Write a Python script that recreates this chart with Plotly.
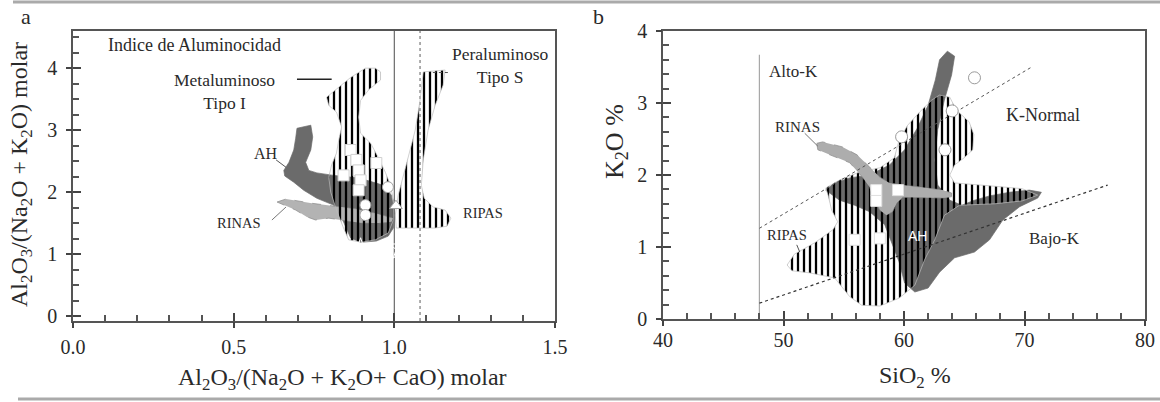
import plotly.graph_objects as go

# ---------------- Panel a: alumina saturation index ----------------
# Metaluminous (I-type) field, vertically hatched
a_meta_x = [0.789, 0.827, 0.864, 0.910, 0.941, 0.957, 0.957, 0.920, 0.895, 0.889, 0.895, 0.926,
            0.950, 0.972, 0.988, 0.997, 0.997, 0.981, 0.941, 0.898, 0.858, 0.842, 0.820, 0.802,
            0.796, 0.805, 0.820, 0.827, 0.836, 0.820, 0.796]
a_meta_y = [3.53, 3.69, 3.85, 4.00, 4.00, 3.94, 3.81, 3.65, 3.48, 3.21, 2.95, 2.79,
            2.56, 2.32, 2.11, 1.87, 1.55, 1.34, 1.23, 1.19, 1.23, 1.42, 1.71, 2.00,
            2.24, 2.44, 2.63, 2.84, 3.05, 3.29, 3.40]
# RIPAS field (peraluminous side), hatched
a_ripas_x = [1.090, 1.158, 1.152, 1.127, 1.105, 1.090, 1.084, 1.093, 1.121, 1.158, 1.176, 1.164,
             1.127, 1.006, 1.003, 1.012, 1.037, 1.065, 1.080]
a_ripas_y = [3.94, 3.97, 3.73, 3.40, 3.00, 2.52, 2.11, 1.90, 1.76, 1.71, 1.58, 1.45,
             1.42, 1.42, 1.63, 1.95, 2.44, 3.00, 3.48]
# AH field, dark grey
a_ah_x = [0.697, 0.740, 0.746, 0.740, 0.724, 0.734, 0.759, 0.811, 0.889, 0.966, 0.991, 1.000,
          0.997, 0.981, 0.944, 0.895, 0.864, 0.842, 0.811, 0.759, 0.718, 0.687, 0.659, 0.656,
          0.672, 0.687, 0.693]
a_ah_y = [3.03, 3.08, 2.89, 2.68, 2.48, 2.35, 2.31, 2.27, 2.23, 2.11, 1.95, 1.63,
          1.42, 1.29, 1.21, 1.19, 1.26, 1.52, 1.79, 1.90, 2.03, 2.16, 2.26, 2.35,
          2.48, 2.68, 2.87]
# RINAS field, light grey
a_rinas_x = [0.635, 0.663, 0.743, 0.817, 0.879, 0.941, 0.981, 0.997, 0.991, 0.960, 0.898, 0.836,
             0.796, 0.755, 0.728, 0.693, 0.656]
a_rinas_y = [1.84, 1.89, 1.82, 1.77, 1.73, 1.66, 1.60, 1.58, 1.52, 1.50, 1.50, 1.55,
             1.58, 1.55, 1.60, 1.71, 1.79]
# samples
a_sq_x = [0.842, 0.864, 0.882, 0.889, 0.895, 0.889, 0.944]
a_sq_y = [2.27, 2.68, 2.52, 2.35, 2.19, 2.03, 2.47]
a_ci_x = [0.980, 0.910, 0.910]
a_ci_y = [2.08, 1.79, 1.63]
a_tr_x = [1.005]
a_tr_y = [1.78]
a_st_x = [0.895, 1.020]
a_st_y = [1.06, 1.10]
a_xticks = [0.0, 0.5, 1.0, 1.5]
a_xticktext = ["0.0", "0.5", "1.0", "1.5"]
a_yticks = [0, 1, 2, 3, 4]

# ---------------- Panel b: K2O vs SiO2 ----------------
b_ah_x = [53.5, 54.25, 55.5, 57.15, 58.8, 60.05, 61.1, 62.0, 62.6, 62.95, 63.6, 64.2,
          63.95, 63.35, 62.8, 62.55, 62.8, 63.8, 64.8, 65.85, 67.1, 68.75, 70.4, 71.4,
          71.1, 69.6, 68.2, 67.1, 65.85, 64.2, 62.95, 62.0, 60.9, 60.05, 59.6, 59.05,
          58.4, 57.15, 55.9, 54.65]
b_ah_y = [1.79, 1.89, 1.96, 2.00, 2.14, 2.35, 2.65, 2.97, 3.32, 3.60, 3.72, 3.65,
          3.39, 3.04, 2.63, 2.21, 1.86, 1.65, 1.58, 1.65, 1.71, 1.76, 1.79, 1.76,
          1.68, 1.56, 1.375, 1.10, 0.93, 0.85, 0.65, 0.43, 0.375, 0.50, 0.79, 1.03,
          1.31, 1.49, 1.58, 1.65]
b_ripas_x = [50.3, 50.9, 52.6, 54.1, 54.5, 54.0, 53.7, 53.5, 54.65, 56.3, 58.0, 59.2,
             59.6, 60.3, 61.3, 62.3, 62.95, 63.8, 64.35, 65.4, 65.8, 65.7, 65.0, 64.2,
             63.8, 64.2, 67.1, 69.8, 71.1, 69.8, 67.5, 64.6, 63.35, 62.55, 61.7, 60.9,
             59.6, 58.0, 56.5, 55.5, 54.25, 52.2, 50.7]
b_ripas_y = [0.75, 0.90, 1.06, 1.24, 1.35, 1.51, 1.72, 1.82, 1.93, 2.04, 2.10, 2.24,
             2.49, 2.69, 2.875, 3.04, 3.11, 3.08, 2.90, 2.74, 2.56, 2.35, 2.24, 2.14,
             2.00, 1.89, 1.85, 1.81, 1.72, 1.64, 1.60, 1.58, 1.44, 1.10, 0.82, 0.47,
             0.29, 0.18, 0.19, 0.31, 0.57, 0.64, 0.67]
b_rinas_x = [52.75, 53.25, 54.9, 56.1, 57.15, 58.0, 58.8, 59.9, 61.5, 63.2, 63.95, 63.95,
             63.2, 61.5, 59.9, 59.4, 59.05, 58.55, 58.0, 57.55, 57.15, 56.55, 55.5, 53.85,
             52.85]
b_rinas_y = [2.44, 2.46, 2.39, 2.28, 2.11, 1.97, 1.89, 1.86, 1.83, 1.79, 1.75, 1.69,
             1.68, 1.68, 1.69, 1.61, 1.49, 1.44, 1.51, 1.65, 1.83, 1.97, 2.17, 2.28,
             2.35]
# series boundaries
b_hik_x = [48.0, 70.6]
b_hik_y = [1.26, 3.50]
b_lok_x = [48.0, 76.9]
b_lok_y = [0.22, 1.86]
b_vert_x = [48.0, 48.0]
b_vert_y = [0.0, 3.67]
# samples
b_sq_x = [57.7, 57.7, 59.5, 55.9, 58.0]
b_sq_y = [1.79, 1.64, 1.79, 1.10, 1.12]
b_ci_x = [65.85, 64.0, 63.4, 59.8]
b_ci_y = [3.35, 2.89, 2.35, 2.53]
b_tr_x = [56.7]
b_tr_y = [2.65]
b_st_x = [75.5, 75.5]
b_st_y = [2.24, 0.15]
b_xticks = [40, 50, 60, 70, 80]
b_yticks = [0, 1, 2, 3, 4]

W, H = 1160, 402
SERIF = "Liberation Serif, Times New Roman, serif"
TXT = "#2a2a2a"
DARK = "#6b6b6b"
LIGHT = "#b3b3b3"
HATCH = dict(shape="|", fgcolor="#000000", bgcolor="rgba(0,0,0,0)", fgopacity=1,
             size=6, solidity=0.38, fillmode="replace")

fig = go.Figure()


def poly(x, y, xa, ya, color=None, pattern=None, line_color="#9a9a9a", dash="solid"):
    kw = dict(x=x + [x[0]], y=y + [y[0]], xaxis=xa, yaxis=ya, mode="lines", fill="toself",
              line=dict(color=line_color, width=0.7, dash=dash), hoverinfo="skip", showlegend=False)
    if pattern is not None:
        kw["fillpattern"] = pattern
        kw["fillcolor"] = "rgba(255,255,255,0)"
    else:
        kw["fillcolor"] = color
    fig.add_trace(go.Scatter(**kw))


def line(x, y, xa, ya, color, width=1, dash="solid"):
    fig.add_trace(go.Scatter(x=x, y=y, xaxis=xa, yaxis=ya, mode="lines",
                             line=dict(color=color, width=width, dash=dash),
                             hoverinfo="skip", showlegend=False))


def pts(x, y, xa, ya, symbol, size, fill, edge, ew=1):
    fig.add_trace(go.Scatter(x=x, y=y, xaxis=xa, yaxis=ya, mode="markers",
                             marker=dict(symbol=symbol, size=size, color=fill,
                                         line=dict(color=edge, width=ew)),
                             hoverinfo="skip", showlegend=False))


# panel a
line([1.0, 1.0], [-0.08, 4.6], "x", "y", "#6a6a6a", 1.2)
line([1.08, 1.08], [-0.08, 4.6], "x", "y", "#777777", 1.2, "dot")
poly(a_ah_x, a_ah_y, "x", "y", color=DARK, line_color=DARK)
poly(a_rinas_x, a_rinas_y, "x", "y", color=LIGHT, line_color="#888888", dash="dash")
poly(a_meta_x, a_meta_y, "x", "y", pattern=HATCH, line_color="#bdbdbd")
poly(a_ripas_x, a_ripas_y, "x", "y", pattern=HATCH, line_color="#bdbdbd")
line([0.697, 0.805], [3.82, 3.82], "x", "y", "#222222", 1.5)
line([0.632, 0.663], [2.52, 2.40], "x", "y", "#555555", 1)
line([0.619, 0.663], [1.55, 1.76], "x", "y", "#777777", 1)
line([1.12, 1.175], [3.93, 3.93], "x", "y", "#555555", 1, "dot")
pts(a_sq_x, a_sq_y, "x", "y", "square", 11, "white", "#d0d0d0")
pts(a_ci_x, a_ci_y, "x", "y", "circle", 11, "white", "#a0a0a0")
pts(a_tr_x, a_tr_y, "x", "y", "triangle-up", 11, "white", "#a0a0a0")
pts(a_st_x, a_st_y, "x", "y", "star-open", 18, "white", "#9a9a9a")

# panel b
line(b_vert_x, b_vert_y, "x2", "y2", "#a8a8a8", 1.2)
poly(b_ah_x, b_ah_y, "x2", "y2", color=DARK, line_color=DARK)
poly(b_ripas_x, b_ripas_y, "x2", "y2", pattern=HATCH, line_color="#bdbdbd")
poly(b_rinas_x, b_rinas_y, "x2", "y2", color="#adadad", line_color="#888888", dash="dash")
line(b_hik_x, b_hik_y, "x2", "y2", "#555555", 1, "dot")
line(b_lok_x, b_lok_y, "x2", "y2", "#333333", 1.2, "dot")
line([51.76, 52.85], [2.58, 2.40], "x2", "y2", "#777777", 1)
line([51.1, 51.35], [1.03, 0.93], "x2", "y2", "#555555", 1)
pts(b_sq_x, b_sq_y, "x2", "y2", "square", 11, "white", "#e0e0e0")
pts(b_ci_x, b_ci_y, "x2", "y2", "circle", 12, "white", "#9a9a9a")
pts(b_tr_x, b_tr_y, "x2", "y2", "triangle-up-open", 12, "white", "#b0b0b0")
pts(b_st_x, b_st_y, "x2", "y2", "star-open", 18, "white", "#9a9a9a")

# invisible carriers for the overlay axes that draw the outer half of the major ticks
for xa, ya, xv, yv in [("x3", "y", 0.5, -5), ("x", "y3", -1, 2), ("x4", "y2", 60, -5), ("x2", "y4", 0, 2)]:
    fig.add_trace(go.Scatter(x=[xv], y=[yv], xaxis=xa, yaxis=ya, mode="markers",
                             marker=dict(opacity=0), hoverinfo="skip", showlegend=False))

ann = []


def label(text, x, y, xa, ya, size=15, color=TXT, family=SERIF):
    ann.append(dict(text=text, x=x, y=y, xref=xa, yref=ya, showarrow=False,
                    xanchor="center", yanchor="middle",
                    font=dict(family=family, size=size, color=color)))


def page_text(text, px, py, size, angle=0):
    ann.append(dict(text=text, x=px / W, y=1 - py / H, xref="paper", yref="paper",
                    showarrow=False, xanchor="center", yanchor="middle", textangle=angle,
                    font=dict(family=SERIF, size=size, color=TXT)))


label("Indice de Aluminocidad", 0.378, 4.37, "x", "y", 18)
label("Metaluminoso<br>Tipo I", 0.47, 3.63, "x", "y", 17.5)
label("Peraluminoso<br>Tipo S", 1.33, 4.05, "x", "y", 17.5)
label("AH", 0.60, 2.62, "x", "y", 16)
label("RINAS", 0.517, 1.50, "x", "y", 14.5)
label("RIPAS", 1.275, 1.66, "x", "y", 14.5)

label("Alto-K", 50.8, 3.44, "x2", "y2", 17)
label("K-Normal", 71.5, 2.83, "x2", "y2", 18)
label("Bajo-K", 72.5, 1.125, "x2", "y2", 17)
label("RINAS", 51.2, 2.67, "x2", "y2", 15)
label("RIPAS", 50.3, 1.17, "x2", "y2", 14.5)
label("AH", 61.1, 1.15, "x2", "y2", 14, color="white", family="Liberation Sans, Arial, sans-serif")

page_text("Al<sub>2</sub>O<sub>3</sub>/(Na<sub>2</sub>O + K<sub>2</sub>O) molar", 21, 175, 24, -90)
page_text("Al<sub>2</sub>O<sub>3</sub>/(Na<sub>2</sub>O + K<sub>2</sub>O+ CaO) molar", 342, 379, 24)
page_text("K<sub>2</sub>O %", 616, 142, 26, -90)
page_text("SiO<sub>2</sub> %", 915, 377, 24)
page_text("a", 26, 16, 22)
page_text("b", 598, 16, 22)

tick_font = dict(family=SERIF, size=20, color=TXT)
axis_common = dict(showline=True, linecolor="#555555", linewidth=1.5, mirror=True, ticks="inside",
                   ticklen=8, tickwidth=1.5, tickcolor="#444444", showgrid=False, zeroline=False,
                   tickfont=tick_font, automargin=False)
outer_ticks = dict(showline=False, showgrid=False, zeroline=False, ticks="outside", ticklen=6,
                   tickwidth=1.5, tickcolor="#444444", showticklabels=False, automargin=False)

a_xdom = [73 / W, 555 / W]
a_ydom = [1 - 321 / H, 1 - 31 / H]
b_xdom = [663 / W, 1145 / W]
b_ydom = [1 - 319 / H, 1 - 31 / H]
a_xr, a_yr = [0, 1.5], [-0.08, 4.6]
b_xr, b_yr = [40, 80], [0, 4]

fig.update_layout(
    width=W, height=H, margin=dict(l=0, r=0, t=0, b=0, autoexpand=False),
    paper_bgcolor="white", plot_bgcolor="white",
    xaxis=dict(domain=a_xdom, range=a_xr, anchor="y", tickvals=a_xticks, ticktext=a_xticktext,
               ticklabelstandoff=7,
               minor=dict(dtick=0.1, ticks="inside", ticklen=6, tickcolor="#555555"), **axis_common),
    yaxis=dict(domain=a_ydom, range=a_yr, anchor="x", tickvals=a_yticks, ticklabelstandoff=10,
               minor=dict(dtick=0.25, ticks="inside", ticklen=6, tickcolor="#555555"), **axis_common),
    xaxis2=dict(domain=b_xdom, range=b_xr, anchor="y2", tickvals=b_xticks, ticklabelstandoff=2,
                minor=dict(dtick=2, ticks="inside", ticklen=6, tickcolor="#555555"), **axis_common),
    yaxis2=dict(domain=b_ydom, range=b_yr, anchor="x2", tickvals=b_yticks, ticklabelstandoff=10,
                minor=dict(dtick=0.2, ticks="inside", ticklen=6, tickcolor="#555555"), **axis_common),
    xaxis3=dict(overlaying="x", range=a_xr, anchor="y", tickvals=a_xticks, side="bottom", **outer_ticks),
    yaxis3=dict(overlaying="y", range=a_yr, anchor="x", tickvals=a_yticks, side="left", **outer_ticks),
    xaxis4=dict(overlaying="x2", range=b_xr, anchor="y2", tickvals=b_xticks, side="bottom", **outer_ticks),
    yaxis4=dict(overlaying="y2", range=b_yr, anchor="x2", tickvals=b_yticks, side="left", **outer_ticks),
    annotations=ann,
    shapes=[
        dict(type="line", xref="paper", yref="paper", x0=13 / W, x1=1, y0=1 - 2 / H, y1=1 - 2 / H,
             line=dict(color="#aaaaaa", width=3)),
        dict(type="line", xref="paper", yref="paper", x0=18 / W, x1=1, y0=1 - 399 / H, y1=1 - 399 / H,
             line=dict(color="#aaaaaa", width=3)),
    ],
)

fig.write_html("out.html")
